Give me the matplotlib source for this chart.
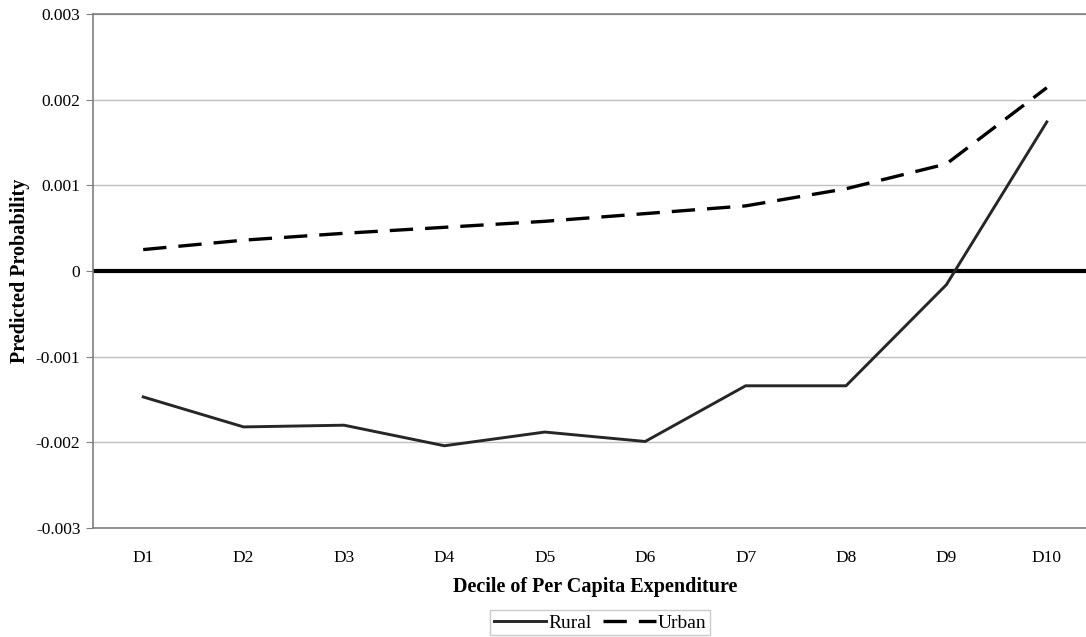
import matplotlib
matplotlib.use("Agg")
import matplotlib.pyplot as plt

categories = ["D1", "D2", "D3", "D4", "D5", "D6", "D7", "D8", "D9", "D10"]
rural = [-0.00147, -0.00182, -0.00180, -0.00204, -0.00188, -0.00199, -0.00134, -0.00134, -0.00016, 0.00174]
urban = [0.00025, 0.00036, 0.00044, 0.00051, 0.00058, 0.00067, 0.00076, 0.00096, 0.00125, 0.00214]
yticks = [-0.003, -0.002, -0.001, 0, 0.001, 0.002, 0.003]
ytick_labels = ["-0.003", "-0.002", "-0.001", "0", "0.001", "0.002", "0.003"]

plt.rcParams['font.family'] = ['Liberation Serif', 'DejaVu Serif']

W, H = 1086, 637
fig = plt.figure(figsize=(W / 100, H / 100), dpi=100)
left, right, top, bottom = 93, 1097, 14, 528
ax = fig.add_axes([left / W, 1 - bottom / H, (right - left) / W, (bottom - top) / H])

x = list(range(len(categories)))
ax.axhline(0, color="black", lw=3.0, zorder=2)
ax.plot(x, rural, color="#262626", lw=2.1, label="Rural", zorder=3)
ax.plot(x, urban, color="black", lw=2.4, dashes=(7.0, 3.6), label="Urban", zorder=3)

ax.set_xlim(-0.5, len(categories) - 0.5)
ax.set_ylim(-0.003, 0.003)
ax.set_yticks(yticks)
ax.set_yticklabels(ytick_labels)
ax.set_xticks(x)
ax.set_xticklabels(categories)
ax.yaxis.grid(True, color="#c0c0c0", lw=1)
ax.set_axisbelow(True)

for s in ["left", "bottom", "top"]:
    ax.spines[s].set_color("#7f7f7f")
    ax.spines[s].set_linewidth(1.2)
ax.spines["right"].set_visible(False)

ax.tick_params(axis="y", length=5, color="#7f7f7f", labelsize=12.5, pad=4)
ax.tick_params(axis="x", length=0, labelsize=12.5, pad=16)

ax.set_xlabel("Decile of Per Capita Expenditure", fontsize=14.5, fontweight="bold", labelpad=8)
fig.text(20 / W, 1 - 271 / H, "Predicted Probability", rotation=90, fontsize=14.5,
         fontweight="bold", ha="center", va="center")

leg = fig.legend(loc="upper center", bbox_to_anchor=(600 / W, 1 - 610 / H), ncol=2, fontsize=14,
                 frameon=True, fancybox=False, handlelength=2.7, handletextpad=0.1,
                 columnspacing=0.6, borderpad=0.2, borderaxespad=0)
leg.get_frame().set_edgecolor("#bfbfbf")
leg.get_frame().set_linewidth(1)

fig.savefig("out.png", dpi=100)
